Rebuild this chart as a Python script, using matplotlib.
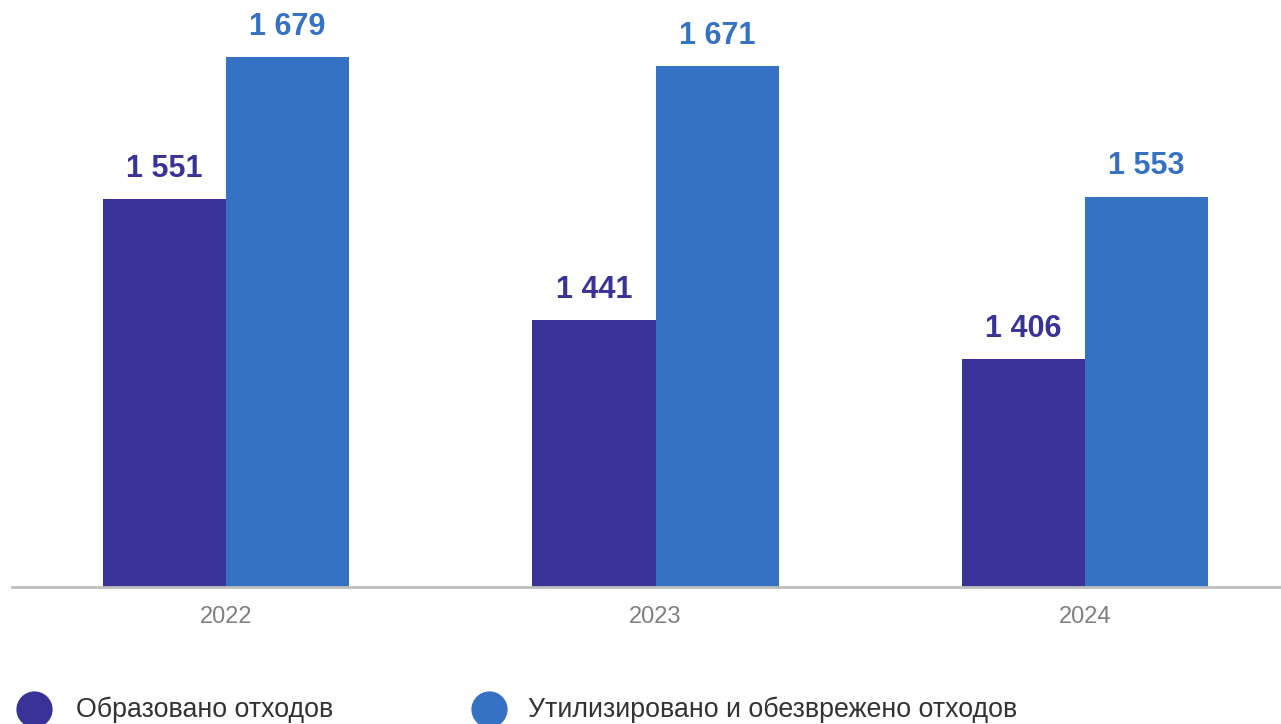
import matplotlib.pyplot as plt
import numpy as np

years = ["2022", "2023", "2024"]
generated = [1551, 1441, 1406]
utilized = [1679, 1671, 1553]
series_names = ["Образовано отходов", "Утилизировано и обезврежено отходов"]
colors = ["#3A3397", "#3572C4"]

W, H = 1281, 724
plt.rcParams["font.family"] = ["Liberation Sans", "DejaVu Sans"]

fig = plt.figure(figsize=(W / 100, H / 100), dpi=100)

# main axes: baseline at y=587 px, left edge at x=12 px
ax = fig.add_axes([12 / W, (H - 587) / H, (W - 12) / W, 587 / H])
x = np.arange(len(years))
bw = 0.2864
bars1 = ax.bar(x - bw / 2, generated, bw, color=colors[0])
bars2 = ax.bar(x + bw / 2, utilized, bw, color=colors[1])

ymin = 1200
ax.set_ylim(ymin, ymin + 587 / 1.106)
ax.set_xlim(-0.498, 2.456)

for bars, vals, c in ((bars1, generated, colors[0]), (bars2, utilized, colors[1])):
    for b, v in zip(bars, vals):
        ax.annotate(f"{v:,}".replace(",", " "), (b.get_x() + b.get_width() / 2, v),
                    xytext=(0, 11), textcoords="offset points", ha="center", va="bottom",
                    fontsize=22, fontweight="bold", color=c)

for s in ["top", "right", "left"]:
    ax.spines[s].set_visible(False)
ax.spines["bottom"].set_color("#BFBFBF")
ax.spines["bottom"].set_linewidth(2)
ax.set_yticks([])
ax.set_xticks(x)
ax.set_xticklabels(years, fontsize=17, color="#808080")
ax.tick_params(axis="x", length=0, pad=14)

# legend drawn in pixel coordinates
lg = fig.add_axes([0, 0, 1, 1])
lg.set_xlim(0, W)
lg.set_ylim(H, 0)
lg.axis("off")
for cx, tx, name, c in zip([34, 489], [76, 528], series_names, colors):
    lg.scatter([cx], [709], s=680, color=c, marker="o", linewidths=0)
    lg.text(tx, 710, name, fontsize=19.3, color="#333333", va="center", ha="left")

fig.savefig("out.png", dpi=100)
